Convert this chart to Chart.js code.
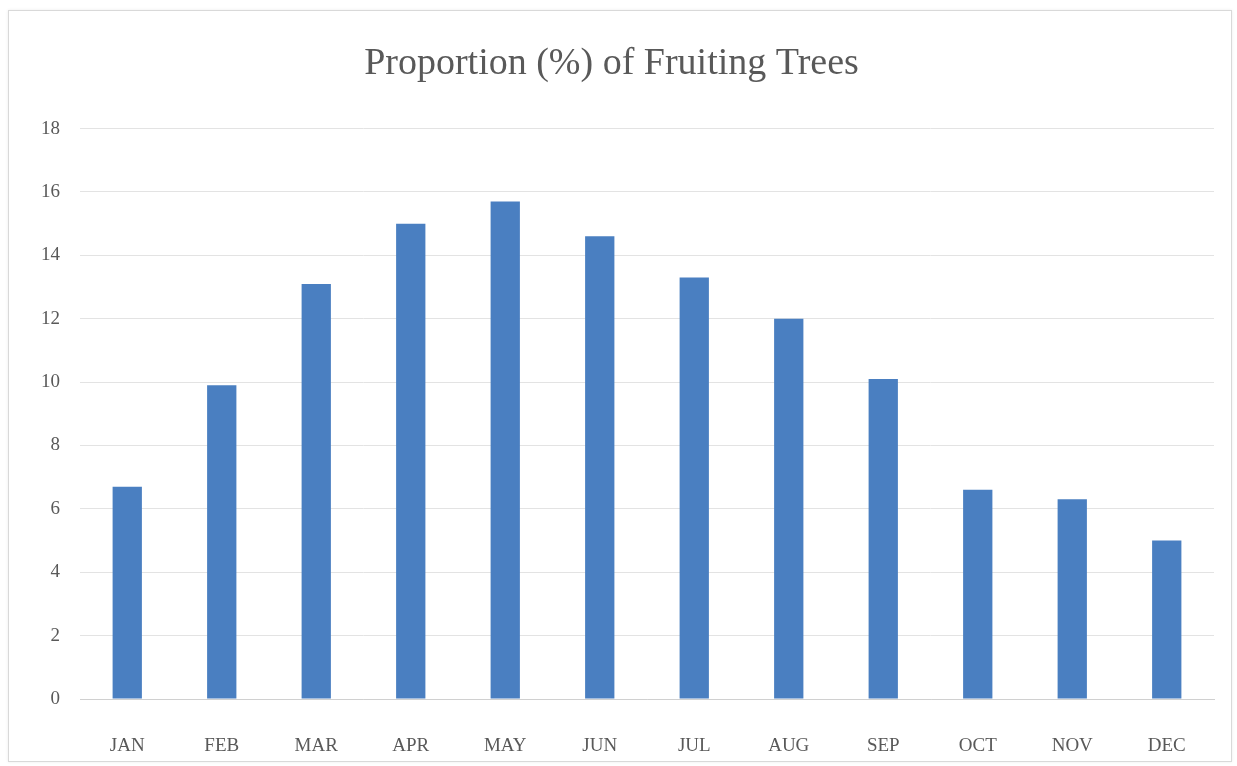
<!DOCTYPE html>
<html>
<head>
<meta charset="utf-8">
<script src="https://cdn.jsdelivr.net/npm/chart.js@4"></script>
<style>
  html, body { margin: 0; padding: 0; background: #fff; }
  .frame {
    position: absolute; left: 8px; top: 10px;
    width: 1222px; height: 750px;
    border: 1px solid #d9d9d9;
    box-shadow: 0 0 3px rgba(0,0,0,0.08);
    background: #fff;
  }
  canvas { display: block; }
</style>
</head>
<body>
<div class="frame"><canvas id="fruitChart" width="1222" height="750"></canvas></div>
<script>
// ── DATA ──
const months   = ['JAN','FEB','MAR','APR','MAY','JUN','JUL','AUG','SEP','OCT','NOV','DEC'];
const fruiting = [6.7, 9.9, 13.1, 15.0, 15.7, 14.6, 13.3, 12.0, 10.1, 6.6, 6.3, 5.0];
const yTicks   = [0, 2, 4, 6, 8, 10, 12, 14, 16, 18];

const serif = "'Liberation Serif', 'DejaVu Serif', serif";

new Chart(document.getElementById('fruitChart'), {
  type: 'bar',
  data: {
    labels: months,
    datasets: [{
      label: 'Proportion (%)',
      data: fruiting,
      backgroundColor: '#4a7fc1',
      borderWidth: 0,
      categoryPercentage: 1,
      barPercentage: 0.31
    }]
  },
  options: {
    responsive: false,
    animation: false,
    layout: { padding: { left: 0, right: 17, top: 0, bottom: 0 } },
    plugins: {
      legend: { display: false },
      tooltip: { enabled: false },
      title: {
        display: true,
        text: 'Proportion (%) of Fruiting Trees',
        color: '#595959',
        font: { family: serif, size: 38, weight: 'normal' },
        padding: { top: 30, bottom: 42 }
      }
    },
    scales: {
      x: {
        grid: { display: false, drawTicks: false },
        border: { color: '#d0d0d0', width: 1 },
        ticks: { color: '#595959', font: { family: serif, size: 19 }, padding: 36 },
        afterFit: s => { s.height = 62; }
      },
      y: {
        min: 0, max: 18,
        afterBuildTicks: s => { s.ticks = yTicks.map(v => ({ value: v })); },
        grid: { color: '#e3e3e3', drawTicks: false },
        border: { display: false },
        ticks: { color: '#595959', font: { family: serif, size: 19 }, padding: 20 },
        afterFit: s => { s.width = 71; }
      }
    }
  }
});
</script>
</body>
</html>
